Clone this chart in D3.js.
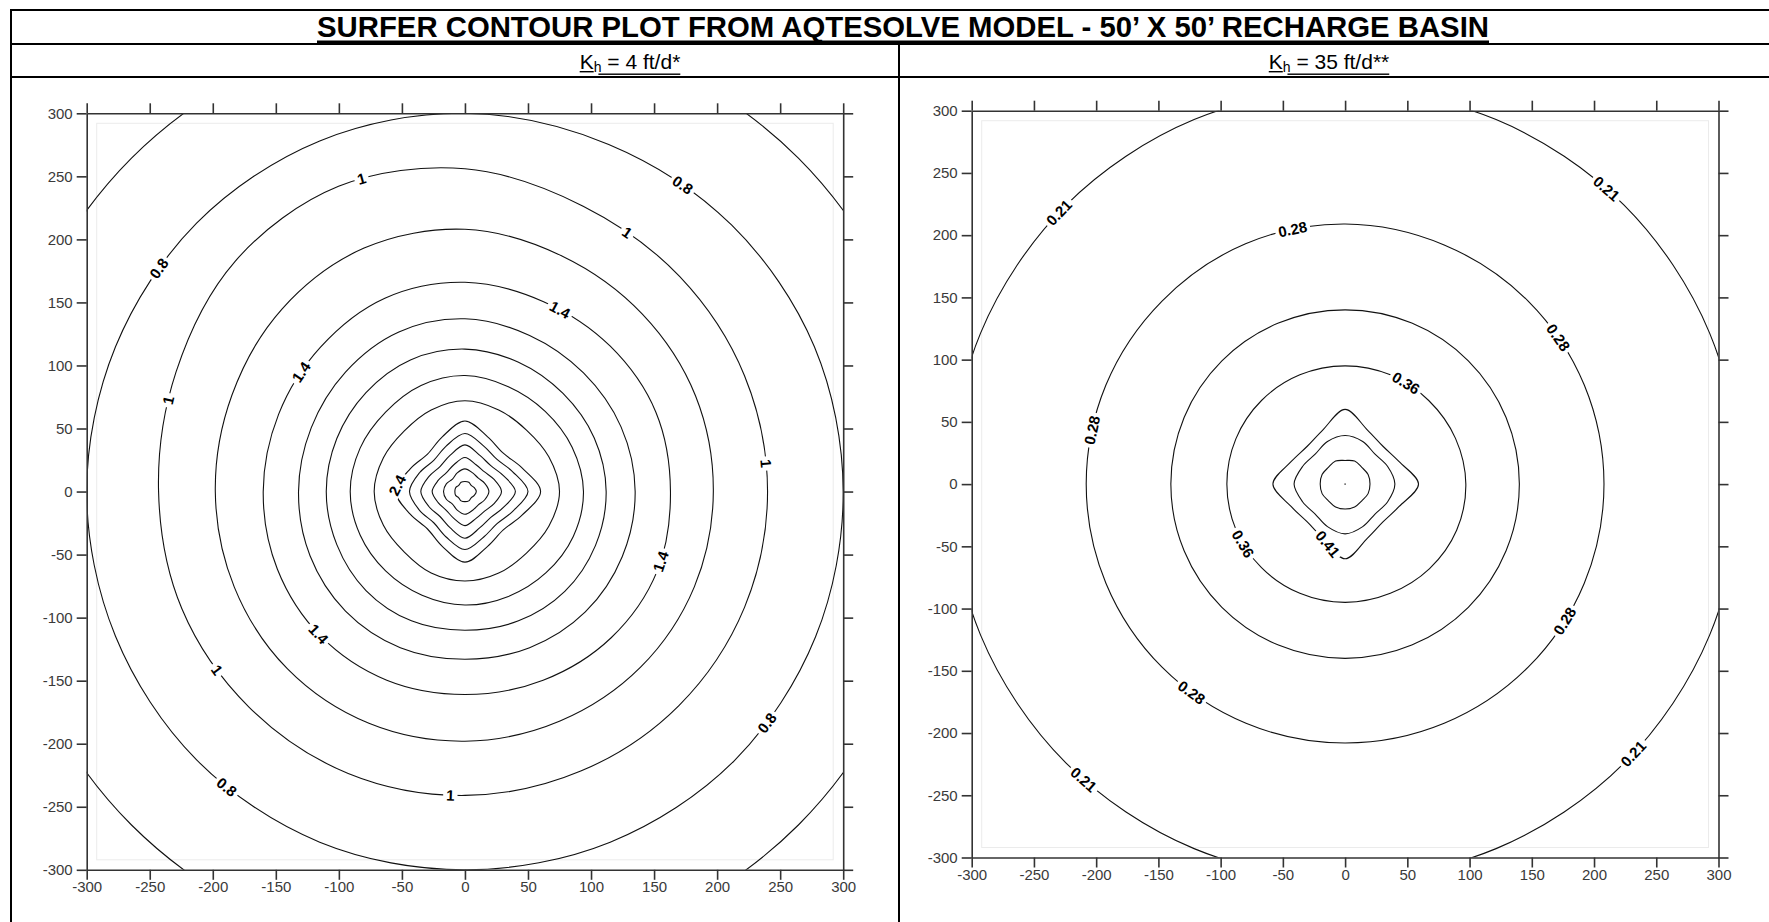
<!DOCTYPE html>
<html>
<head>
<meta charset="utf-8">
<script src="https://cdn.jsdelivr.net/npm/d3@7"></script>
<style>
  html, body { margin: 0; padding: 0; background: #fff; }
  svg { display: block; }
</style>
</head>
<body>
<svg id="chart" width="1769" height="922"></svg>
<script>
// ---------------------------------------------------------------------------
// Data
// ---------------------------------------------------------------------------
const titleText = "SURFER CONTOUR PLOT FROM AQTESOLVE MODEL - 50\u2019 X 50\u2019 RECHARGE BASIN";
const panelHeads = [
  ["K", "h", " = 4 ft/d*"],
  ["K", "h", " = 35 ft/d**"]
];
const tickValues = [-300, -250, -200, -150, -100, -50, 0, 50, 100, 150, 200, 250, 300];

// Directions (degrees, counter-clockwise from east) where each contour radius is read
const sampleAngles = [0, 22.5, 45, 67.5, 90, 112.5, 135, 157.5, 180, 202.5, 225, 247.5, 270, 292.5, 315, 337.5];

// Kh = 4 ft/d : mound height contours (ft) and their radius (ft) in each direction
const levelsA = [0.6, 0.8, 1.0, 1.2, 1.4, 1.6, 1.8, 2.0, 2.2, 2.4, 2.6, 2.8, 3.0, 3.2, 3.4];
const radiiA = [
  [374, 374, 374, 374, 374, 374, 374, 374, 374, 374, 374, 374, 374, 374, 374, 374],
  [300, 300, 299, 298, 300, 301, 301, 300, 300, 300, 301, 301, 300, 301, 302, 301],
  [240, 240, 241, 245, 256, 262, 258, 248, 243, 243, 242, 242, 241, 240, 240, 240],
  [197, 198, 199, 202, 208, 209, 205, 200, 198, 198, 199, 199, 198, 197, 197, 197],
  [163, 164, 163, 163, 166, 166, 162, 160, 160, 161, 162, 162, 161, 162, 164, 165],
  [135, 134, 133, 134, 137, 137, 134, 132, 132, 133, 134, 134, 133, 134, 135, 135],
  [112, 111, 110, 111, 113, 113, 111, 110, 110, 110, 111, 111, 110, 111, 112, 112],
  [ 94,  92,  90,  90,  92,  91,  89,  90,  91,  90,  89,  89,  90,  90,  91,  93],
  [ 75,  72,  69,  70,  72,  70,  68,  70,  72,  70,  68,  70,  71,  70,  69,  72],
  [ 60,  49,  43,  47,  56,  47,  42,  47,  55,  47,  42,  47,  56,  47,  43,  49],
  [ 50,  41,  36,  39,  46,  39,  35,  39,  44,  39,  35,  39,  46,  39,  36,  41],
  [ 40,  33,  29,  31,  37,  31,  28,  31,  35,  31,  28,  31,  37,  31,  29,  33],
  [ 29,  25,  22,  23,  27,  23,  21,  23,  26,  23,  21,  23,  27,  23,  22,  25],
  [ 19,  17,  15,  16,  18,  16,  14,  16,  17,  16,  14,  16,  18,  16,  15,  17],
  [  9,   8,   7,   8,   8,   8,   7,   8,   8,   8,   7,   8,   8,   8,   7,   8]
];
// Contour label anchors: level and direction (degrees) along the contour
const labelsA = [
  [0.8, 54.5], [0.8, 144], [0.8, -37.4], [0.8, -129],
  [1.0, 108.4], [1.0, 58], [1.0, 162.9], [1.0, 5.4], [1.0, -144.3], [1.0, -92.6],
  [1.4, 62.3], [1.4, 143.7], [1.4, -19.8], [1.4, -135.8],
  [2.4, 174.8]
];

// Kh = 35 ft/d : mound height contours (ft) and their radius (ft) in each direction
const levelsB = [0.21, 0.28, 0.32, 0.36, 0.41, 0.43, 0.45];
const radiiB = [
  [317, 317, 317, 317, 317, 317, 317, 317, 317, 317, 317, 317, 317, 317, 317, 317],
  [208, 208, 208, 208, 209, 209, 208, 208, 208, 208, 208, 208, 208, 208, 208, 208],
  [140, 140, 140, 140, 140, 140, 140, 140, 140, 140, 140, 140, 140, 140, 140, 140],
  [ 97,  96,  95,  95,  95,  95,  95,  95,  95,  95,  95,  95,  95,  95,  96,  97],
  [ 59,  47,  43,  47,  60,  47,  43,  47,  58,  47,  43,  47,  60,  47,  43,  47],
  [ 40,  37,  34,  37,  39,  37,  34,  37,  41,  37,  34,  37,  40,  37,  34,  37],
  [ 20,  20,  19,  20,  19,  20,  19,  20,  20,  20,  19,  20,  20,  20,  19,  20]
];
const labelsB = [
  [0.21, 136.4], [0.21, 48.5], [0.21, -131.5], [0.21, -43],
  [0.28, 101.7], [0.28, 167.9], [0.28, 34.4], [0.28, -32], [0.28, -126.3],
  [0.36, 59], [0.36, -149.7],
  [0.41, -106]
];
const basinCentre = [[0, 0]];

// ---------------------------------------------------------------------------
// Layout
// ---------------------------------------------------------------------------
const svg = d3.select("#chart");
const narrow = "'Liberation Sans Narrow', 'Arial Narrow', 'Liberation Sans', Arial, sans-serif";
const sans = "'Liberation Sans', Arial, sans-serif";

// Table frame
const frame = svg.append("g").attr("stroke", "#000").attr("stroke-width", 2);
[[11, 10, 1769, 10], [11, 44, 1769, 44], [11, 77, 1769, 77],
 [11, 9, 11, 922], [899, 44, 899, 922]].forEach(([x1, y1, x2, y2]) =>
  frame.append("line").attr("x1", x1).attr("y1", y1).attr("x2", x2).attr("y2", y2));

// Main heading, underlined
svg.append("text")
  .attr("x", 903).attr("y", 37)
  .attr("text-anchor", "middle")
  .attr("font-family", narrow).attr("font-weight", "bold").attr("font-size", 30)
  .attr("textLength", 1172).attr("lengthAdjust", "spacingAndGlyphs")
  .text(titleText);
svg.append("rect").attr("x", 903 - 586).attr("y", 40.5).attr("width", 1172).attr("height", 3).attr("fill", "#000");

// Panel headings: K with subscript h
function panelHead(cx, parts) {
  const t = svg.append("text").attr("y", 69)
    .attr("font-family", narrow).attr("font-size", 21).attr("fill", "#000");
  t.append("tspan").text(parts[0]);
  t.append("tspan").attr("font-size", 14).attr("dy", 3).text(parts[1]);
  t.append("tspan").attr("dy", -3).text(parts[2]);
  const w = t.node().getComputedTextLength();
  const x0 = cx - w / 2;
  t.attr("x", x0);
  const kW = t.node().getSubStringLength(0, 1);
  const hW = t.node().getSubStringLength(1, 1);
  svg.append("rect").attr("x", x0).attr("y", 71).attr("width", kW).attr("height", 1.4).attr("fill", "#000");
  svg.append("rect").attr("x", x0 + kW + hW * 0.6).attr("y", 73.5).attr("width", w - kW - hW * 0.6).attr("height", 1.4).attr("fill", "#000");
}
panelHead(630, panelHeads[0]);
panelHead(1329, panelHeads[1]);

// ---------------------------------------------------------------------------
// Contour panels
// ---------------------------------------------------------------------------
const fmt = v => String(+v.toFixed(2));

function drawPanel(id, box, levels, radii, labels, centre) {
  const x = d3.scaleLinear().domain([-300, 300]).range([box.x0, box.x0 + box.size]);
  const y = d3.scaleLinear().domain([-300, 300]).range([box.y0 + box.size, box.y0]);
  const g = svg.append("g");

  g.append("clipPath").attr("id", id + "-clip")
    .append("rect").attr("x", x(-300)).attr("y", y(300))
    .attr("width", x(300) - x(-300)).attr("height", y(-300) - y(300));

  // faint grid extent inside the map frame
  g.append("rect")
    .attr("x", x(-300) + 10).attr("y", y(300) + 10)
    .attr("width", x(300) - x(-300) - 20).attr("height", y(-300) - y(300) - 20)
    .attr("fill", "none").attr("stroke", "#ebebeb").attr("stroke-width", 1);

  const line = d3.line()
    .x(d => x(d[0])).y(d => y(d[1]))
    .curve(d3.curveCatmullRomClosed.alpha(0.5));

  const paths = new Map();
  const cg = g.append("g").attr("clip-path", `url(#${id}-clip)`);
  levels.forEach((lv, i) => {
    const pts = sampleAngles.map((a, j) => {
      const t = a * Math.PI / 180;
      return [radii[i][j] * Math.cos(t), radii[i][j] * Math.sin(t)];
    });
    const p = cg.append("path")
      .attr("d", line(pts))
      .attr("fill", "none").attr("stroke", "#111").attr("stroke-width", 1.1);
    paths.set(lv, p.node());
  });

  cg.selectAll("circle.c").data(centre).join("circle")
    .attr("cx", d => x(d[0])).attr("cy", d => y(d[1])).attr("r", 0.9).attr("fill", "#555");

  // contour labels follow the line direction
  const lg = g.append("g");
  const cx = x(0), cy = y(0);
  labels.forEach(([lv, ang]) => {
    const node = paths.get(lv);
    const L = node.getTotalLength();
    const n = 900;
    const pts = d3.range(n).map(i => node.getPointAtLength(L * i / n));
    const target = ang * Math.PI / 180;
    let bi = 0, bd = 1e9;
    pts.forEach((p, i) => {
      const a = Math.atan2(cy - p.y, p.x - cx);
      const d = Math.abs(Math.atan2(Math.sin(a - target), Math.cos(a - target)));
      if (d < bd) { bd = d; bi = i; }
    });
    const p = pts[bi], p1 = pts[(bi + n - 4) % n], p2 = pts[(bi + 4) % n];
    let rot = Math.atan2(p2.y - p1.y, p2.x - p1.x) * 180 / Math.PI;
    if (rot > 90) rot -= 180;
    if (rot <= -90) rot += 180;
    const lab = lg.append("g").attr("transform", `translate(${p.x},${p.y}) rotate(${rot})`);
    const tx = lab.append("text")
      .attr("text-anchor", "middle").attr("dy", "0.36em")
      .attr("font-family", sans).attr("font-weight", "bold").attr("font-size", 15)
      .attr("fill", "#000").text(fmt(lv));
    const w = tx.node().getComputedTextLength();
    lab.insert("rect", "text").attr("x", -w / 2 - 3).attr("y", -6.5).attr("width", w + 6).attr("height", 13).attr("fill", "#fff");
  });

  // axes with outward ticks on all four sides; labels use a plain hyphen for negatives
  const axColor = "#333";
  const plain = d => String(d);
  const ax = g.append("g");
  const bottom = ax.append("g").attr("transform", `translate(0,${y(-300)})`)
    .call(d3.axisBottom(x).tickValues(tickValues).tickFormat(plain).tickSize(10).tickPadding(2).tickSizeOuter(0));
  const left = ax.append("g").attr("transform", `translate(${x(-300)},0)`)
    .call(d3.axisLeft(y).tickValues(tickValues).tickFormat(plain).tickSize(10).tickPadding(4).tickSizeOuter(0));
  const top = ax.append("g").attr("transform", `translate(0,${y(300)})`)
    .call(d3.axisTop(x).tickValues(tickValues).tickSize(10).tickFormat("").tickSizeOuter(0));
  const right = ax.append("g").attr("transform", `translate(${x(300)},0)`)
    .call(d3.axisRight(y).tickValues(tickValues).tickSize(10).tickFormat("").tickSizeOuter(0));
  [bottom, left, top, right].forEach(a => {
    a.attr("font-family", narrow).attr("font-size", 15);
    a.select(".domain").attr("stroke", axColor).attr("stroke-width", 1.6);
    a.selectAll(".tick line").attr("stroke", axColor).attr("stroke-width", 1.6);
    a.selectAll(".tick text").attr("fill", "#3a3a3a");
  });
}

drawPanel("kh4", { x0: 86.7, y0: 113.3, size: 756.5 }, levelsA, radiiA, labelsA, []);
drawPanel("kh35", { x0: 971.7, y0: 110.7, size: 746.8 }, levelsB, radiiB, labelsB, basinCentre);
</script>
</body>
</html>
